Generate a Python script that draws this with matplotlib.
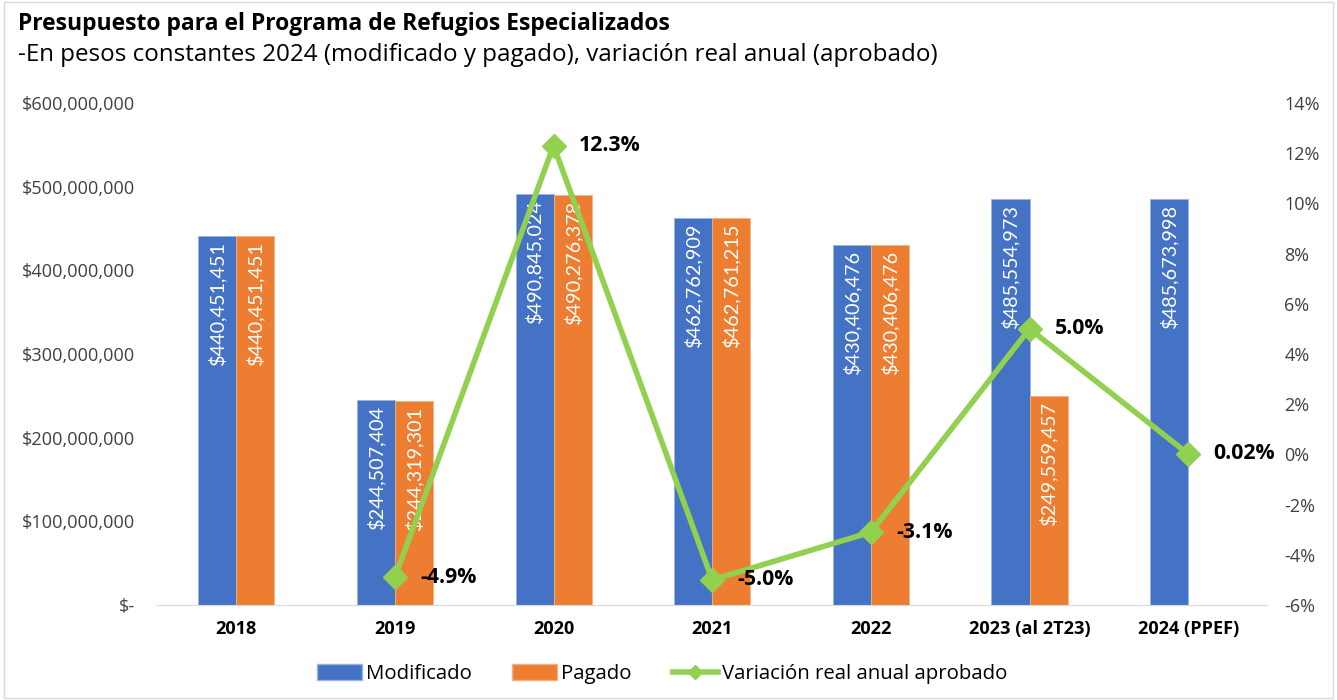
import numpy as np
import matplotlib.pyplot as plt
from matplotlib.lines import Line2D
from matplotlib.patches import Patch

plt.rcParams['font.family'] = ['Open Sans', 'DejaVu Sans']

# data
years = ['2018', '2019', '2020', '2021', '2022', '2023 (al 2T23)', '2024 (PPEF)']
modificado = [440451451, 244507404, 490845024, 462762909, 430406476, 485554973, 485673998]
pagado = [440451451, 244319301, 490276378, 462761215, 430406476, 249559457, np.nan]
variacion = [np.nan, -4.9, 12.3, -5.0, -3.1, 5.0, 0.02]
var_labels = ['', '-4.9%', '12.3%', '-5.0%', '-3.1%', '5.0%', '0.02%']

blue = '#4472C4'
orange = '#ED7D31'
green = '#92D050'

fig = plt.figure(figsize=(13.37, 7), dpi=100)
ax = fig.add_axes([0.1174, 0.1357, 0.8306, 0.7173])

x = np.arange(len(years))
w = 0.24

ax.bar(x - w / 2, modificado, w, color=blue, edgecolor='#9DB4E0', linewidth=0.6)
ax.bar(x + w / 2, pagado, w, color=orange, edgecolor='#F4B183', linewidth=0.6)

# white rotated labels inside the bars
for i in range(len(years)):
    ax.text(x[i] - w / 2, modificado[i] - 6e6, f'${modificado[i]:,.0f}', rotation=90,
            ha='center', va='top', color='white', fontsize=14.3, family=['Lato', 'DejaVu Sans'])
    if not np.isnan(pagado[i]):
        ax.text(x[i] + w / 2, pagado[i] - 6e6, f'${pagado[i]:,.0f}', rotation=90,
                ha='center', va='top', color='white', fontsize=14.3, family=['Lato', 'DejaVu Sans'])

ax.set_xlim(-0.5, len(years) - 0.5)
ax.set_ylim(0, 600e6)
ax.set_yticks(np.arange(0, 600e6 + 1, 100e6))
ax.set_yticklabels(['$-'] + [f'${v:,.0f}' for v in np.arange(100e6, 600e6 + 1, 100e6)])
ax.set_xticks(x)
ax.set_xticklabels(years, fontweight='bold', fontsize=13.8)
ax.tick_params(axis='both', length=0, labelsize=13.1, colors='#404040')
ax.tick_params(axis='x', pad=11, colors='black')
ax.tick_params(axis='y', pad=16)
for s in ['top', 'right', 'left']:
    ax.spines[s].set_visible(False)
ax.spines['bottom'].set_color('#D9D9D9')

ax2 = ax.twinx()
ax2.plot(x, variacion, color=green, linewidth=4, marker='D', markersize=12,
         markeredgecolor=green, markerfacecolor=green)
for i in range(len(years)):
    if var_labels[i]:
        ax2.text(x[i] + 0.16, variacion[i], var_labels[i], ha='left', va='center',
                 fontweight='bold', fontsize=15.3, color='black')
ax2.set_ylim(-6, 14)
ax2.set_yticks(np.arange(-6, 15, 2))
ax2.set_yticklabels([f'{v}%' for v in range(-6, 15, 2)])
ax2.tick_params(axis='y', length=0, labelsize=13, colors='#404040', pad=12)
for s in ['top', 'right', 'left', 'bottom']:
    ax2.spines[s].set_visible(False)

fig.text(0.0135, 0.966, 'Presupuesto para el Programa de Refugios Especializados',
         fontsize=16.5, fontweight='bold', va='center', ha='left')
fig.text(0.0135, 0.922, '-En pesos constantes 2024 (modificado y pagado), variación real anual (aprobado)',
         fontsize=17.4, va='center', ha='left')

handles = [Patch(facecolor=blue, edgecolor='#9DB4E0'),
           Patch(facecolor=orange, edgecolor='#F4B183'),
           Line2D([0], [0], color=green, linewidth=4, marker='D', markersize=7)]
fig.legend(handles, ['Modificado', 'Pagado', 'Variación real anual aprobado'],
           loc='center', bbox_to_anchor=(0.495, 0.037), ncol=3, frameon=False,
           fontsize=14.7, handlelength=2.2, handleheight=0.8, columnspacing=2.0, handletextpad=0.2)

# light frame around the chart
fig.patches.append(plt.Rectangle((0.003, 0.003), 0.994, 0.994, transform=fig.transFigure,
                                 fill=False, edgecolor='#D9D9D9', linewidth=1))

fig.savefig('out.png', dpi=100)
